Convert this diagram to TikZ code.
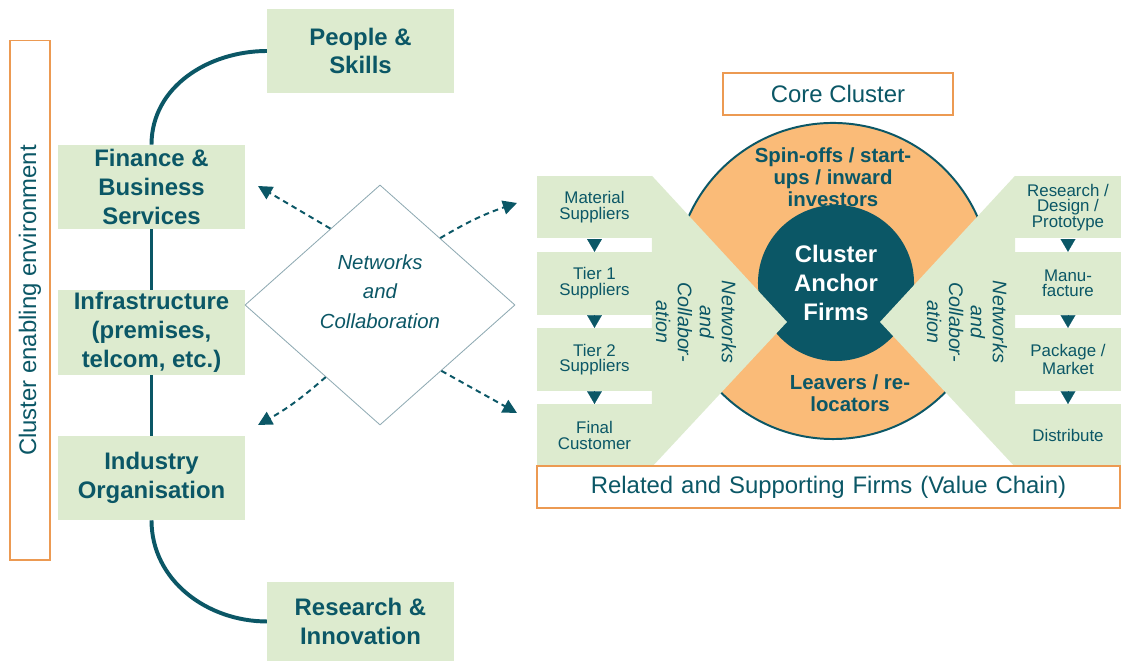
\documentclass[tikz,border=0pt]{standalone}
\usepackage{fontspec}
\setmainfont{Liberation Sans}
\usepackage{xcolor}
\usepackage{tikz}
\usetikzlibrary{shapes.geometric, arrows.meta, positioning, backgrounds}
\definecolor{clteal}{HTML}{0B5766}
\definecolor{clgreen}{HTML}{DDEBCF}
\definecolor{clorange}{HTML}{FABB78}
\definecolor{clline}{HTML}{EC9A52}
\definecolor{cldiam}{HTML}{8FAAB3}
\tikzset{
  factor/.style={rectangle, fill=clgreen, text=clteal, minimum width=4.65cm, minimum height=2.1cm, align=center, inner sep=0pt, font=\fontsize{17}{20.5}\selectfont\bfseries},
  envbox/.style={rectangle, draw=clline, line width=0.8pt, text=clteal, rotate=90, minimum width=12.975cm, minimum height=1cm, font=\fontsize{17}{20}\selectfont},
  spine/.style={clteal, line width=2.8pt},
  netdiamond/.style={diamond, draw=cldiam, line width=0.6pt, minimum width=6.75cm, minimum height=6cm, inner sep=0pt},
  nettext/.style={text=clteal, align=center, font=\fontsize{14.5}{21}\selectfont\itshape},
  dasharrow/.style={clteal, line width=1.4pt, dash pattern=on 4pt off 3pt, -{Triangle[length=10pt,width=10pt]}},
  chainbox/.style={rectangle, fill=clgreen, text=clteal, minimum width=2.875cm, minimum height=1.5625cm, align=center, inner sep=0pt, font=\fontsize{12}{11}\selectfont},
  chainarrow/.style={clteal, line width=0.1pt, -{Triangle[length=9pt,width=10.5pt]}},
  chevtext/.style={rotate=-90, text=clteal, align=center, font=\fontsize{14}{15.6}\selectfont\itshape},
  ringtext/.style={text=clteal, align=center, font=\fontsize{14.5}{15.6}\selectfont\bfseries},
  anchortext/.style={text=white, align=center, font=\fontsize{17}{20.5}\selectfont\bfseries},
  framebox/.style={rectangle, draw=clline, line width=0.9pt, fill=white, text=clteal, minimum height=1.05cm, font=\fontsize{17}{20}\selectfont}
}
\begin{document}
\begin{tikzpicture}[x=0.025cm, y=0.025cm]
\useasboundingbox (0,0) rectangle (1121,661);

% Enabling environment
\node (env) [envbox] at (30,360.5) {Cluster enabling environment};

\node (people) [factor] at (360.5,610) {People \&\\Skills};
\node (finance) [factor] at (151.5,474) {Finance \&\\Business\\Services};
\node (infra) [factor, minimum height=2.125cm] at (151.5,328.5) {Infrastructure\\(premises,\\telcom, etc.)};
\node (industry) [factor] at (151.5,183) {Industry\\Organisation};
\node (research) [factor, minimum height=1.975cm] at (360.5,39.5) {Research \&\\Innovation};

\begin{scope}[on background layer]
\draw [spine] (finance.north) to[out=90, in=180] (people.west);
\draw [spine] (finance) -- (infra) -- (industry);
\draw [spine] (industry.south) to[out=-90, in=180] (research.west);
\end{scope}

% Networks diamond
\node (net) [netdiamond] at (380,356) {};
\node (netlabel) [nettext] at (380,369.5) {Networks\\and\\Collaboration};

\coordinate (tipfin) at (258,475);
\coordinate (tipmat) at (517,458);
\coordinate (tipind) at (258,236);
\coordinate (tipcust) at (517,248);
\draw [dasharrow] (net.123) -- (tipfin);
\draw [dasharrow] (net.48.5) to[bend left=6] (tipmat);
\draw [dasharrow] (net.233.4) to[bend left=6] (tipind);
\draw [dasharrow] (net.313.6) -- (tipcust);

% Core cluster
\node (ring) [circle, fill=clorange, draw=clteal, line width=1.4pt, minimum size=7.9cm] at (833,380) {};
\node (anchor) [circle, fill=clteal, minimum size=3.9cm, anchortext] at (836,378) {Cluster\\Anchor\\Firms};
\node (spin) [ringtext] at (833,483.5) {Spin-offs / start-\\ups / inward\\investors};
\node (leave) [ringtext] at (850,268) {Leavers / re-\\locators};
\node (core) [framebox, minimum width=5.75cm] at (838,567) {Core Cluster};

% Suppliers side
\node (mat) [chainbox] at (594.5,453.75) {Material\\Suppliers};
\node (tier1) [chainbox, below=0.325cm of mat] {Tier 1\\Suppliers};
\node (tier2) [chainbox, below=0.325cm of tier1] {Tier 2\\Suppliers};
\node (cust) [chainbox, below=0.325cm of tier2] {Final\\Customer};
\coordinate (leftip) at (787,339);
\fill [clgreen] ([xshift=-0.3pt]mat.north east) -- (leftip) -- ([xshift=-0.3pt]cust.south east) -- cycle;
\draw [chainarrow] (mat) -- (tier1);
\draw [chainarrow] (tier1) -- (tier2);
\draw [chainarrow] (tier2) -- (cust);
\node (leftnet) [chevtext] at (696,339) {Networks\\and\\Collabor-\\ation};

% Production side
\node (rdp) [chainbox, minimum width=2.65cm] at (1068,453.75) {Research /\\Design /\\Prototype};
\node (manu) [chainbox, minimum width=2.65cm, below=0.325cm of rdp] {Manu-\\facture};
\node (pack) [chainbox, minimum width=2.65cm, below=0.325cm of manu] {Package /\\Market};
\node (dist) [chainbox, minimum width=2.65cm, below=0.325cm of pack] {Distribute};
\coordinate (rightip) at (880,339);
\fill [clgreen] ([xshift=0.3pt]rdp.north west) -- (rightip) -- ([xshift=0.3pt]dist.south west) -- cycle;
\draw [chainarrow] (rdp) -- (manu);
\draw [chainarrow] (manu) -- (pack);
\draw [chainarrow] (pack) -- (dist);
\node (rightnet) [chevtext] at (967,339) {Networks\\and\\Collabor-\\ation};

\node (related) [framebox, minimum width=14.575cm, text width=14.2cm, align=center] at (828.5,174) {Related and Supporting Firms (Value Chain)};

\end{tikzpicture}
\end{document}
